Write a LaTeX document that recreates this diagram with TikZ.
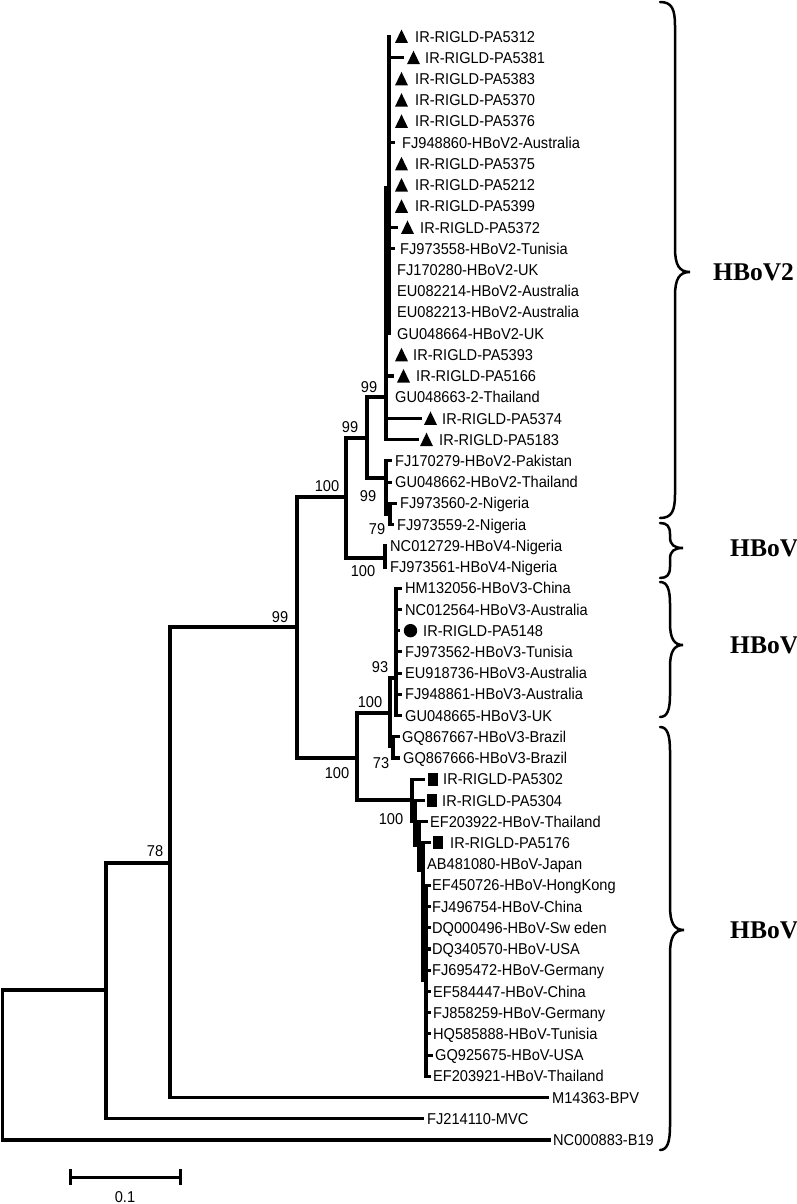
\documentclass[tikz,border=0pt]{standalone}
\usepackage{fontspec}
\setmainfont{Liberation Sans}
\newfontfamily\labfont[FakeStretch=0.93]{Liberation Sans}
\newfontfamily\grpfont{Liberation Serif}
\tikzset{
  branch/.style={line width=3.1pt, line cap=rect},
  lab/.style={font=\labfont\fontsize{15.7}{17}\selectfont, inner sep=0pt, anchor=base west},
  bs/.style={font=\labfont\fontsize{15.7}{17}\selectfont, inner sep=0pt},
  grp/.style={font=\grpfont\bfseries\fontsize{25.5}{27}\selectfont, inner sep=0pt, anchor=west},
  bracestyle/.style={line width=2.5pt, line cap=round}
}
% plain leaf: name,row,parent,line end x,text x,text
\newcommand\leaf[6]{%
  \pgfmathsetmacro\ly{36.5+(#2-1)*21.22}%
  \coordinate (e#1) at (#4,\ly);
  \draw[branch] (#3) |- (e#1);
  \node[lab] (n#1) at (#5,{\ly+5.6}) {#6};
}
% triangle leaf: name,row,parent,line end x,marker x,text x,text
\newcommand\leafT[7]{%
  \pgfmathsetmacro\ly{36.5+(#2-1)*21.22}%
  \coordinate (e#1) at (#4,\ly);
  \draw[branch] (#3) |- (e#1);
  \fill (#5,{\ly+6.5}) -- ++(13,0) -- ++(-6.5,-13.5) -- cycle;
  \node[lab] (n#1) at (#6,{\ly+5.6}) {#7};
}
% square leaf
\newcommand\leafS[7]{%
  \pgfmathsetmacro\ly{36.5+(#2-1)*21.22}%
  \coordinate (e#1) at (#4,\ly);
  \draw[branch] (#3) |- (e#1);
  \fill (#5,{\ly-6.5}) rectangle ++(10,13);
  \node[lab] (n#1) at (#6,{\ly+5.6}) {#7};
}
% circle leaf
\newcommand\leafC[7]{%
  \pgfmathsetmacro\ly{36.5+(#2-1)*21.22}%
  \coordinate (e#1) at (#4,\ly);
  \draw[branch] (#3) |- (e#1);
  \fill (#5,\ly) circle (6.7);
  \node[lab] (n#1) at (#6,{\ly+5.6}) {#7};
}
% brace: left x, vertical x, tip x, top, tip y, bottom, curve size
\newcommand\grpbrace[7]{%
  \draw[bracestyle] (#1,#4) .. controls ({#2-3},#4) and (#2,{#4+#7*0.3}) .. (#2,{#4+#7})
    -- (#2,{#5-#7}) .. controls (#2,{#5-#7*0.3}) and ({#2+4},#5) .. (#3,#5)
    .. controls ({#2+4},#5) and (#2,{#5+#7*0.3}) .. (#2,{#5+#7})
    -- (#2,{#6-#7}) .. controls (#2,{#6-#7*0.3}) and ({#2-3},#6) .. (#1,#6);
}
\begin{document}
\begin{tikzpicture}[x=1pt,y=-1pt]
\useasboundingbox (0,0) rectangle (797,1204);
% internal nodes
\coordinate (R) at (2.5,1065);
\coordinate (A) at (106,990);
\coordinate (B) at (170,863);
\coordinate (C) at (297,627);
\coordinate (D) at (346,497);
\coordinate (E) at (367,438);
\coordinate (F) at (386,397);
\coordinate (F1) at (389,188);
\coordinate (G) at (386,478);
\coordinate (H) at (390,514);
\coordinate (Q) at (385,558);
\coordinate (J) at (357,758);
\coordinate (I) at (390,713);
\coordinate (K) at (396,678);
\coordinate (L) at (393,746);
\coordinate (M) at (412,800);
\coordinate (N) at (415,821);
\coordinate (O) at (419,845);
\coordinate (P) at (423,870);
\coordinate (P2) at (426,980);
% internal branches
\draw[branch] (R) |- (A);
\draw[branch] (A) |- (B);
\draw[branch] (B) |- (C);
\draw[branch] (C) |- (D);
\draw[branch] (C) |- (J);
\draw[branch] (D) |- (E);
\draw[branch] (D) |- (Q);
\draw[branch] (E) |- (F);
\draw[branch] (E) |- (G);
\draw[branch] (F) |- (F1);
\draw[branch] (G) |- (H);
\draw[branch] (J) |- (I);
\draw[branch] (J) |- (M);
\draw[branch] (I) |- (K);
\draw[branch] (I) |- (L);
\draw[branch] (M) |- (N);
\draw[branch] (N) |- (O);
\draw[branch] (O) |- (P);
\draw[branch] (P) |- (P2);
% leaves HBoV2
\leafT{1}{1}{F1}{389}{395}{415}{IR-RIGLD-PA5312}
\leafT{2}{2}{F1}{402}{407}{425}{IR-RIGLD-PA5381}
\leafT{3}{3}{F1}{389}{395}{415}{IR-RIGLD-PA5383}
\leafT{4}{4}{F1}{389}{395}{415}{IR-RIGLD-PA5370}
\leafT{5}{5}{F1}{389}{395}{415}{IR-RIGLD-PA5376}
\leaf{6}{6}{F1}{393}{402}{FJ948860-HBoV2-Australia}
\leafT{7}{7}{F1}{389}{395}{415}{IR-RIGLD-PA5375}
\leafT{8}{8}{F1}{389}{395}{415}{IR-RIGLD-PA5212}
\leafT{9}{9}{F1}{389}{395}{415}{IR-RIGLD-PA5399}
\leafT{10}{10}{F1}{396}{401}{420}{IR-RIGLD-PA5372}
\leaf{11}{11}{F1}{393}{400}{FJ973558-HBoV2-Tunisia}
\leaf{12}{12}{F1}{389}{397}{FJ170280-HBoV2-UK}
\leaf{13}{13}{F1}{389}{397}{EU082214-HBoV2-Australia}
\leaf{14}{14}{F1}{389}{397}{EU082213-HBoV2-Australia}
\leaf{15}{15}{F1}{389}{397}{GU048664-HBoV2-UK}
\leafT{16}{16}{F}{386}{395}{413}{IR-RIGLD-PA5393}
\leafT{17}{17}{F}{392}{397}{416}{IR-RIGLD-PA5166}
\leaf{18}{18}{F}{386}{395}{GU048663-2-Thailand}
\leafT{19}{19}{F}{420}{424}{442}{IR-RIGLD-PA5374}
\leafT{20}{20}{F}{417}{420}{439}{IR-RIGLD-PA5183}
\leaf{21}{21}{G}{390}{395}{FJ170279-HBoV2-Pakistan}
\leaf{22}{22}{G}{390}{395}{GU048662-HBoV2-Thailand}
\leaf{23}{23}{H}{395}{400}{FJ973560-2-Nigeria}
\leaf{24}{24}{H}{392}{397}{FJ973559-2-Nigeria}
% HBoV4
\leaf{25}{25}{Q}{385}{390}{NC012729-HBoV4-Nigeria}
\leaf{26}{26}{Q}{385}{390}{FJ973561-HBoV4-Nigeria}
% HBoV3
\leaf{27}{27}{K}{400}{405}{HM132056-HBoV3-China}
\leaf{28}{28}{K}{400}{405}{NC012564-HBoV3-Australia}
\leafC{29}{29}{K}{398}{410.5}{423}{IR-RIGLD-PA5148}
\leaf{30}{30}{K}{400}{405}{FJ973562-HBoV3-Tunisia}
\leaf{31}{31}{K}{400}{405}{EU918736-HBoV3-Australia}
\leaf{32}{32}{K}{400}{405}{FJ948861-HBoV3-Australia}
\leaf{33}{33}{K}{400}{405}{GU048665-HBoV3-UK}
\leaf{34}{34}{L}{398}{402}{GQ867667-HBoV3-Brazil}
\leaf{35}{35}{L}{398}{403}{GQ867666-HBoV3-Brazil}
% HBoV1
\leafS{36}{36}{M}{423}{428}{443}{IR-RIGLD-PA5302}
\leafS{37}{37}{N}{423}{427}{442}{IR-RIGLD-PA5304}
\leaf{38}{38}{O}{426}{430}{EF203922-HBoV-Thailand}
\leafS{39}{39}{P}{429}{433}{450}{IR-RIGLD-PA5176}
\leaf{40}{40}{P}{423}{427}{AB481080-HBoV-Japan}
\leaf{41}{41}{P2}{429}{432}{EF450726-HBoV-HongKong}
\leaf{42}{42}{P2}{429}{432}{FJ496754-HBoV-China}
\leaf{43}{43}{P2}{429}{432}{DQ000496-HBoV-Sw eden}
\leaf{44}{44}{P2}{429}{432}{DQ340570-HBoV-USA}
\leaf{45}{45}{P2}{429}{432}{FJ695472-HBoV-Germany}
\leaf{46}{46}{P2}{429}{433}{EF584447-HBoV-China}
\leaf{47}{47}{P2}{429}{433}{FJ858259-HBoV-Germany}
\leaf{48}{48}{P2}{429}{433}{HQ585888-HBoV-Tunisia}
\leaf{49}{49}{P2}{431}{435}{GQ925675-HBoV-USA}
\leaf{50}{50}{P2}{429}{433}{EF203921-HBoV-Thailand}
% outgroups
\leaf{51}{51}{B}{547}{552}{M14363-BPV}
\leaf{52}{52}{A}{422}{427}{FJ214110-MVC}
\leaf{53}{53}{R}{549}{553}{NC000883-B19}
% bootstrap values
\node[bs] (b78) at (155,851) {78};
\node[bs] (bC) at (280,617) {99};
\node[bs] (bD) at (327,486) {100};
\node[bs] (bE) at (350,427) {99};
\node[bs] (bF) at (369,387) {99};
\node[bs] (bG) at (368,496) {99};
\node[bs] (bH) at (377,529) {79};
\node[bs] (bQ) at (363,571) {100};
\node[bs] (bI) at (370,702) {100};
\node[bs] (bK) at (380,667) {93};
\node[bs] (bL) at (381,763) {73};
\node[bs] (bJ) at (337,773) {100};
\node[bs] (bM) at (391,819) {100};
% braces and group names
\grpbrace{660}{675}{690}{2}{272}{518}{24}
\node[grp] (g2) at (713,272) {HBoV2};
\grpbrace{660}{670}{683}{523}{548}{578}{11}
\node[grp] (g4) at (730,548) {HBoV};
\grpbrace{660}{670}{683}{582}{645}{717}{22}
\node[grp] (g3) at (730,645) {HBoV};
\grpbrace{660}{670}{684}{727}{930}{1150}{24}
\node[grp] (g1) at (730,930) {HBoV};
% scale bar
\coordinate (s1) at (70,1177);
\coordinate (s2) at (180,1177);
\draw[line width=3pt] (s1) -- (s2);
\draw[line width=3pt] (70,1169) -- (70,1185);
\draw[line width=3pt] (180,1169) -- (180,1185);
\node[bs] (sl) at (125,1197) {0.1};
\end{tikzpicture}
\end{document}
